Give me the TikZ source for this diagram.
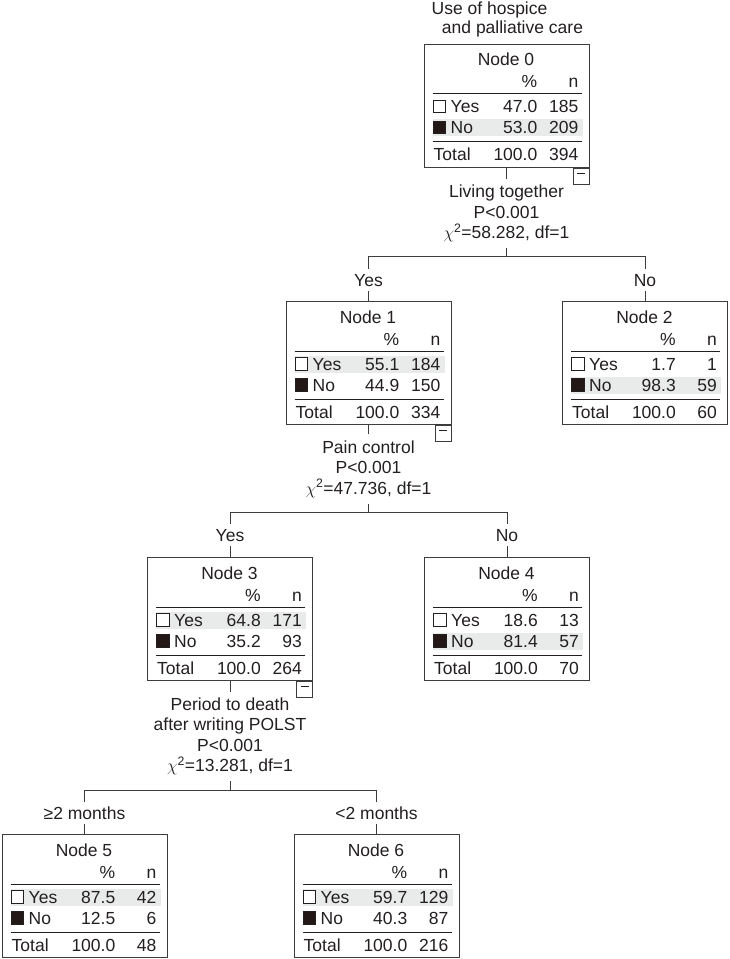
\documentclass[tikz,border=0pt]{standalone}
\usepackage{fontspec}
\setmainfont{Liberation Sans}
\usepackage{tikz}
\usetikzlibrary{positioning}
\definecolor{ink}{HTML}{231F20}
\definecolor{boxline}{HTML}{3C3C3C}
\definecolor{rowshade}{HTML}{E8EBE9}
\definecolor{solidsq}{HTML}{231815}
\tikzset{
  treebox/.style={
    rectangle, draw=boxline, fill=white, line width=1pt,
    minimum width=165pt, minimum height=123pt,
    inner sep=0pt, anchor=north
  },
  celltext/.style={
    inner sep=0pt, text height=12pt, text depth=0pt,
    font=\fontsize{17.5}{20}\selectfont, text=ink
  },
  checkbox/.style={
    rectangle, draw=ink, fill=#1, line width=0.9pt,
    minimum size=12.5pt, inner sep=0pt
  },
  checkbox/.default=white,
  rowband/.style={fill=rowshade},
  tablerule/.style={draw=ink, line width=0.9pt},
  minusbox/.style={
    rectangle, draw=boxline, fill=white, line width=0.9pt,
    minimum size=16pt, inner sep=0pt, anchor=north east,
    path picture={\draw[ink, line width=0.9pt]
      ([shift={(-4,5)}]path picture bounding box.north) --
      ([shift={(4,5)}]path picture bounding box.north);}
  },
  splitlabel/.style={
    align=center, font=\fontsize{17.5}{20.5}\selectfont, text=ink,
    inner xsep=2pt, inner ysep=3pt
  },
  branchlabel/.style={
    inner sep=5pt, text height=12pt, text depth=0pt,
    font=\fontsize{17.5}{20}\selectfont, text=ink
  },
  headlabel/.style={
    inner sep=0pt, text height=12pt, text depth=0pt,
    font=\fontsize{17.5}{20}\selectfont, text=ink
  },
  stem/.style={draw=boxline, line width=1pt},
}
% ── one box of the tree: id, x, top y, yes %, yes n, no %, no n, total n, shaded row ──
\newcommand{\treenode}[9]{%
  \node[treebox] (n#1) at (#2,#3) {};
  \fill[rowband] ([shift={(9,#9-8.5)}]n#1.north west) rectangle ([shift={(159,#9+8.5)}]n#1.north west);
  \node[celltext] (n#1t) at ([shift={(82.5,16)}]n#1.north west) {Node #1};
  \node[celltext, anchor=east] (n#1hp) at ([shift={(114,38)}]n#1.north west) {\%};
  \node[celltext, anchor=east] (n#1hn) at ([shift={(155,38)}]n#1.north west) {n};
  \draw[tablerule] ([shift={(9,50)}]n#1.north west) -- ([shift={(158,50)}]n#1.north west);
  \node[checkbox] (n#1ys) at ([shift={(16,63)}]n#1.north west) {};
  \node[celltext, anchor=west] (n#1yl) at ([shift={(27,63)}]n#1.north west) {Yes};
  \node[celltext, anchor=east] (n#1yp) at ([shift={(114,63)}]n#1.north west) {#4};
  \node[celltext, anchor=east] (n#1yn) at ([shift={(155,63)}]n#1.north west) {#5};
  \node[checkbox=solidsq] (n#1ns) at ([shift={(16,84)}]n#1.north west) {};
  \node[celltext, anchor=west] (n#1nl) at ([shift={(27,84)}]n#1.north west) {No};
  \node[celltext, anchor=east] (n#1np) at ([shift={(114,84)}]n#1.north west) {#6};
  \node[celltext, anchor=east] (n#1nn) at ([shift={(155,84)}]n#1.north west) {#7};
  \draw[tablerule] ([shift={(9,98)}]n#1.north west) -- ([shift={(158,98)}]n#1.north west);
  \node[celltext, anchor=west] (n#1tl) at ([shift={(10,111)}]n#1.north west) {Total};
  \node[celltext, anchor=east] (n#1tp) at ([shift={(114,111)}]n#1.north west) {100.0};
  \node[celltext, anchor=east] (n#1tn) at ([shift={(155,111)}]n#1.north west) {#8};
}
\begin{document}
\begin{tikzpicture}[x=1pt, y=-1pt]
\useasboundingbox (0,0) rectangle (729,959);

\node[headlabel] (head1) at (489.5,8.5) {Use of hospice};
\node[headlabel] (head2) at (512.5,27.5) {and palliative care};

% boxes
\treenode{0}{506.5}{43.5}{47.0}{185}{53.0}{209}{394}{84}
\treenode{1}{368.5}{301}{55.1}{184}{44.9}{150}{334}{63}
\treenode{2}{645}{301}{1.7}{1}{98.3}{59}{60}{84}
\treenode{3}{230}{557}{64.8}{171}{35.2}{93}{264}{63}
\treenode{4}{507}{557}{18.6}{13}{81.4}{57}{70}{84}
\treenode{5}{84.5}{834}{87.5}{42}{12.5}{6}{48}{63}
\treenode{6}{376.5}{834}{59.7}{129}{40.3}{87}{216}{63}

\node[minusbox] (m0) at (n0.south east) {};
\node[minusbox] (m1) at (n1.south east) {};
\node[minusbox] (m3) at (n3.south east) {};

% splits
\node[splitlabel] (s0) at (506.5,213.5) {Living together\\P<0.001\\$\chi$\textsuperscript{2}=58.282, df=1};
\node[splitlabel] (s1) at (368.5,469) {Pain control\\P<0.001\\$\chi$\textsuperscript{2}=47.736, df=1};
\node[splitlabel] (s3) at (230,736.5) {Period to death\\after writing POLST\\P<0.001\\$\chi$\textsuperscript{2}=13.281, df=1};

\coordinate (b0) at (506.5,256);
\coordinate (b1) at (368.5,512);
\coordinate (b3) at (230,790);

\node[branchlabel] (y1) at (368.5,280) {Yes};
\node[branchlabel] (y2) at (645,280) {No};
\node[branchlabel] (y3) at (230,535) {Yes};
\node[branchlabel] (y4) at (507,535) {No};
\node[branchlabel] (y5) at (84.5,813) {≥2 months};
\node[branchlabel] (y6) at (376.5,813) {<2 months};

% connectors
\draw[stem, shorten >=3pt] (n0.south) -- (s0.north);
\draw[stem, shorten <=3pt] (s0.south) -- (b0);
\draw[stem] (b0) -| (y1.north);
\draw[stem] (b0) -| (y2.north);
\draw[stem] (y1.south) -- (n1.north);
\draw[stem] (y2.south) -- (n2.north);

\draw[stem, shorten >=3pt] (n1.south) -- (s1.north);
\draw[stem, shorten <=3pt] (s1.south) -- (b1);
\draw[stem] (b1) -| (y3.north);
\draw[stem] (b1) -| (y4.north);
\draw[stem] (y3.south) -- (n3.north);
\draw[stem] (y4.south) -- (n4.north);

\draw[stem, shorten >=3pt] (n3.south) -- (s3.north);
\draw[stem, shorten <=3pt] (s3.south) -- (b3);
\draw[stem] (b3) -| (y5.north);
\draw[stem] (b3) -| (y6.north);
\draw[stem] (y5.south) -- (n5.north);
\draw[stem] (y6.south) -- (n6.north);

\end{tikzpicture}
\end{document}
